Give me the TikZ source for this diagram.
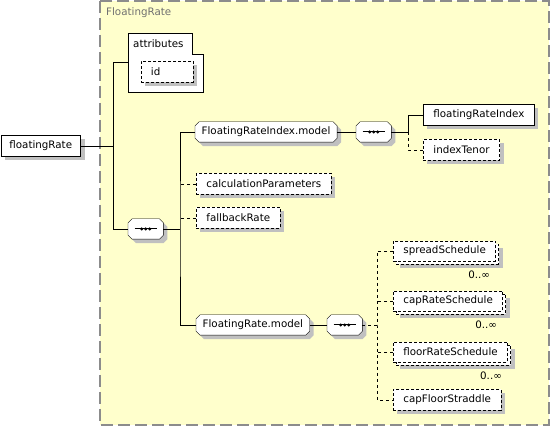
\documentclass[tikz,border=0pt]{standalone}
\usepackage{fontspec}
\setmainfont{DejaVu Sans}
\usetikzlibrary{shadows,positioning,calc}
\definecolor{schemayellow}{HTML}{FFFFCC}
\definecolor{framegrey}{HTML}{8C8C8C}
\definecolor{shadegrey}{HTML}{C0C0C0}
\definecolor{labelgrey}{HTML}{707070}
\pgfdeclarelayer{backdrop}
\pgfdeclarelayer{background}
\pgfsetlayers{backdrop,background,main}

\newcommand\octagonframe[1]{%
  \begin{pgfonlayer}{background}
    \fill[shadegrey] ($(#1.north west)+(4,8)$) -- ($(#1.north west)+(8,4)$) -- ($(#1.north east)+(0,4)$) -- ($(#1.north east)+(4,8)$)
      -- ($(#1.south east)+(4,0)$) -- ($(#1.south east)+(0,4)$) -- ($(#1.south west)+(8,4)$) -- ($(#1.south west)+(4,0)$) -- cycle;
    \draw[fill=white] ($(#1.north west)+(0,4)$) -- ($(#1.north west)+(4,0)$) -- ($(#1.north east)+(-4,0)$) -- ($(#1.north east)+(0,4)$)
      -- ($(#1.south east)+(0,-4)$) -- ($(#1.south east)+(-4,0)$) -- ($(#1.south west)+(4,0)$) -- ($(#1.south west)+(0,-4)$) -- cycle;
  \end{pgfonlayer}}

\tikzset{
  elembox/.style={draw,fill=white,line width=.8pt,minimum height=21pt,inner xsep=10pt,inner ysep=0pt,anchor=west,
    drop shadow={shadow xshift=4pt,shadow yshift=-4pt,fill=shadegrey,opacity=1}},
  optbox/.style={elembox,dash pattern=on 3pt off 2pt},
  manybox/.style={draw,fill=white,line width=.8pt,dash pattern=on 3pt off 2pt,minimum height=20pt,inner xsep=10pt,inner ysep=0pt,anchor=west,
    drop shadow={shadow xshift=7pt,shadow yshift=-7pt,fill=shadegrey,opacity=1},
    copy shadow={shadow xshift=3pt,shadow yshift=-3pt,fill=white,draw=black,line width=.8pt,dash pattern=on 3pt off 2pt}},
  modelbox/.style={rectangle,minimum height=20pt,inner xsep=6.5pt,inner ysep=0pt,anchor=west},
  compositor/.style={modelbox,minimum width=35pt,
    path picture={
      \draw[line width=1pt] ($(path picture bounding box.center)+(-11,0)$) -- ($(path picture bounding box.center)+(11,0)$);
      \foreach \dx in {-4,0,4}
        \fill[black] ($(path picture bounding box.center)+(\dx,0)$) circle[radius=1.7pt];
    }},
  optline/.style={dash pattern=on 3pt off 3pt},
  occurs/.style={anchor=east,inner sep=0pt}
}

\begin{document}
\begin{tikzpicture}[x=1pt,y=-1pt,font=\fontsize{10.3}{12}\selectfont,line width=.8pt]
  \useasboundingbox (0,0) rectangle (552,427);
  \begin{pgfonlayer}{backdrop}
    \draw[framegrey,line width=1.6pt,dash pattern=on 12pt off 5pt,fill=schemayellow] (100,1) rectangle (549,425);
  \end{pgfonlayer}
  \node[anchor=west,inner sep=0pt,text=labelgrey] (typeName) at (106,13) {FloatingRate};

  \node[elembox,inner xsep=8.5pt] (floatingRate) at (0.5,146) {floatingRate};

  \draw[fill=white] (128,33) -- (192,33) -- (192,54) -- (203,54) -- (203,92) -- (128,92) -- cycle;
  \node[anchor=west,inner sep=0pt] (attributes) at (133,44) {attributes};
  \coordinate (attrIn) at (128,62);
  \node[optbox,text width=33pt,inner xsep=9.5pt] (id) at (141,72) {id};

  \node[compositor] (seq1) at (128,229) {};
  \node[modelbox] (indexModel) at (195,132) {FloatingRateIndex.model};
  \node[compositor] (seq2) at (356,132) {};
  \node[elembox] (floatingRateIndex) at (423,115) {floatingRateIndex};
  \node[optbox] (indexTenor) at (423,150) {indexTenor};
  \node[optbox] (calculationParameters) at (196,184) {calculationParameters};
  \node[optbox] (fallbackRate) at (196,218) {fallbackRate};
  \node[modelbox] (rateModel) at (196,325) {FloatingRate.model};
  \node[compositor] (seq3) at (327,325) {};
  \octagonframe{seq1}
  \octagonframe{indexModel}
  \octagonframe{seq2}
  \octagonframe{rateModel}
  \octagonframe{seq3}

  \node[manybox] (spreadSchedule) at (393,251) {spreadSchedule};
  \node[manybox] (capRateSchedule) at (393,301) {capRateSchedule};
  \node[manybox] (floorRateSchedule) at (393,352) {floorRateSchedule};
  \node[optbox] (capFloorStraddle) at (393,400) {capFloorStraddle};
  \node[occurs] (spreadOccurs) at ($(spreadSchedule.south east)+(-6,13)$) {0..∞};
  \node[occurs] (capRateOccurs) at ($(capRateSchedule.south east)+(-6,13)$) {0..∞};
  \node[occurs] (floorRateOccurs) at ($(floorRateSchedule.south east)+(-6,13)$) {0..∞};

  \coordinate (hub1) at (113,229);
  \coordinate (hub2) at (180,229);
  \coordinate (hub3) at (408,132);
  \coordinate (hub4) at (377,325);
  \draw (floatingRate.east) -- (floatingRate.east -| hub1);
  \draw (attrIn) -| (hub1) -- (seq1.west);
  \draw (seq1.east) -- (hub2);
  \draw (indexModel.west) -| (hub2) |- (rateModel.west);
  \draw[optline] (calculationParameters.west) -- (calculationParameters.west -| hub2);
  \draw[optline] (fallbackRate.west) -- (fallbackRate.west -| hub2);
  \draw (indexModel.east) -- (seq2.west);
  \draw (seq2.east) -- (hub3) |- (floatingRateIndex.west);
  \draw[optline] (hub3) |- (indexTenor.west);
  \draw (rateModel.east) -- (seq3.west);
  \draw[optline] (seq3.east) -- (hub4);
  \draw[optline] (spreadSchedule.west) -| (hub4) |- (capFloorStraddle.west);
  \draw[optline] (capRateSchedule.west) -- (capRateSchedule.west -| hub4);
  \draw[optline] (floorRateSchedule.west) -- (floorRateSchedule.west -| hub4);
\end{tikzpicture}
\end{document}
